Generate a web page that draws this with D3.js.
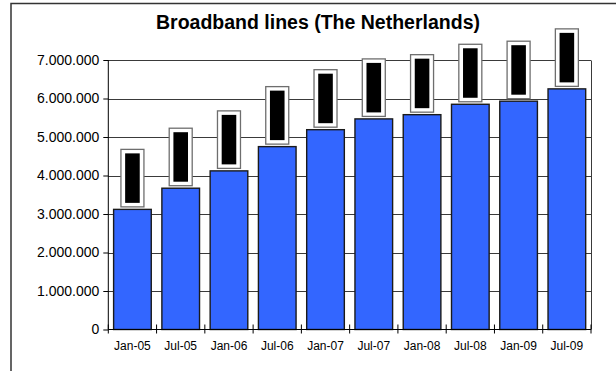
<!DOCTYPE html>
<html>
<head>
<meta charset="utf-8">
<script src="https://cdn.jsdelivr.net/npm/d3@7"></script>
<style>
  html, body { margin: 0; padding: 0; background: #fff; }
  svg { display: block; }
  text { font-family: "Liberation Sans", Arial, sans-serif; }
</style>
</head>
<body>
<svg id="chart" width="616" height="371"></svg>
<script>
const categories = ["Jan-05","Jul-05","Jan-06","Jul-06","Jan-07","Jul-07","Jan-08","Jul-08","Jan-09","Jul-09"];
const broadbandLines = [3120000, 3670000, 4120000, 4750000, 5190000, 5470000, 5580000, 5850000, 5930000, 6250000];
const yTicks = [0, 1000000, 2000000, 3000000, 4000000, 5000000, 6000000, 7000000];
const title = "Broadband lines (The Netherlands)";

(function () {
const svg = d3.select("#chart");
const pLeft = 108.3, pRight = 591, pTop = 60, pBottom = 329.5;

const fmt = v => d3.format(",")(v).replace(/,/g, ".");

// outer frame
svg.append("rect")
  .attr("x", 11).attr("y", 3.5).attr("width", 640).attr("height", 400)
  .attr("fill", "none").attr("stroke", "#333").attr("stroke-width", 1.5);

const x = d3.scaleBand().domain(categories).range([pLeft, pRight])
  .paddingInner(0.22).paddingOuter(0.11);
const y = d3.scaleLinear().domain([0, 7000000]).range([pBottom, pTop]);

// gridlines
svg.append("g").selectAll("line").data(yTicks.filter(d => d > 0)).join("line")
  .attr("x1", pLeft).attr("x2", pRight)
  .attr("y1", d => Math.round(y(d)) + 0.5).attr("y2", d => Math.round(y(d)) + 0.5)
  .attr("stroke", "#3a3a3a").attr("stroke-width", 1);

// plot area right border
svg.append("line")
  .attr("x1", pRight + 0.5).attr("x2", pRight + 0.5)
  .attr("y1", Math.round(y(7000000)) + 0.5).attr("y2", pBottom)
  .attr("stroke", "#3a3a3a").attr("stroke-width", 1);

// bars
svg.append("g").selectAll("rect").data(broadbandLines).join("rect")
  .attr("x", (d, i) => x(categories[i]))
  .attr("y", d => y(d))
  .attr("width", x.bandwidth())
  .attr("height", d => pBottom - y(d))
  .attr("fill", "#3366FF")
  .attr("stroke", "#1a1a1a").attr("stroke-width", 1.4);

// data labels (rotated, rendered as black blocks)
const lab = svg.append("g").selectAll("g").data(broadbandLines).join("g")
  .attr("transform", (d, i) => `translate(${x(categories[i]) + x.bandwidth() / 2},${y(d) - 2.5})`);
lab.append("rect")
  .attr("x", -11.5).attr("y", -57.5).attr("width", 23).attr("height", 57.5)
  .attr("fill", "#fff").attr("stroke", "#6e6e6e").attr("stroke-width", 1.3);
lab.append("rect")
  .attr("x", -7.3).attr("y", -53.5).attr("width", 14.6).attr("height", 49.5)
  .attr("fill", "#000");
lab.append("text")
  .attr("transform", "translate(4,-28.75) rotate(-90)")
  .attr("text-anchor", "middle")
  .attr("font-size", 10.5).attr("font-weight", "bold")
  .attr("fill", "#000")
  .text(d => fmt(d));

// y axis
const yAxis = svg.append("g").attr("transform", `translate(${pLeft},0)`)
  .call(d3.axisLeft(y).tickValues(yTicks).tickFormat(fmt).tickSize(5).tickPadding(4));
yAxis.select(".domain").attr("stroke", "#000").attr("d", `M-0,${pTop}V${pBottom}`);
yAxis.selectAll(".tick line").attr("stroke", "#000");
yAxis.selectAll(".tick text")
  .attr("font-family", "Liberation Sans, Arial, sans-serif")
  .attr("font-size", 14).attr("fill", "#000");

// x axis
const xAxis = svg.append("g").attr("transform", `translate(0,${pBottom})`)
  .call(d3.axisBottom(x).tickSize(0).tickPadding(12));
xAxis.select(".domain").attr("stroke", "#000").attr("d", `M${pLeft},0H${pRight}`);
xAxis.selectAll(".tick text")
  .attr("font-family", "Liberation Sans, Arial, sans-serif")
  .attr("font-size", 12).attr("fill", "#000");

// category boundary ticks
const bounds = d3.range(categories.length + 1).map(i => pLeft + i * x.step());
xAxis.append("g").selectAll("line").data(bounds).join("line")
  .attr("x1", d => d).attr("x2", d => d)
  .attr("y1", -5).attr("y2", 4)
  .attr("stroke", "#000");

// title
svg.append("text")
  .attr("x", 318).attr("y", 29)
  .attr("text-anchor", "middle")
  .attr("font-size", 19.5).attr("font-weight", "bold")
  .attr("fill", "#000")
  .text(title);
})();
</script>
</body>
</html>
